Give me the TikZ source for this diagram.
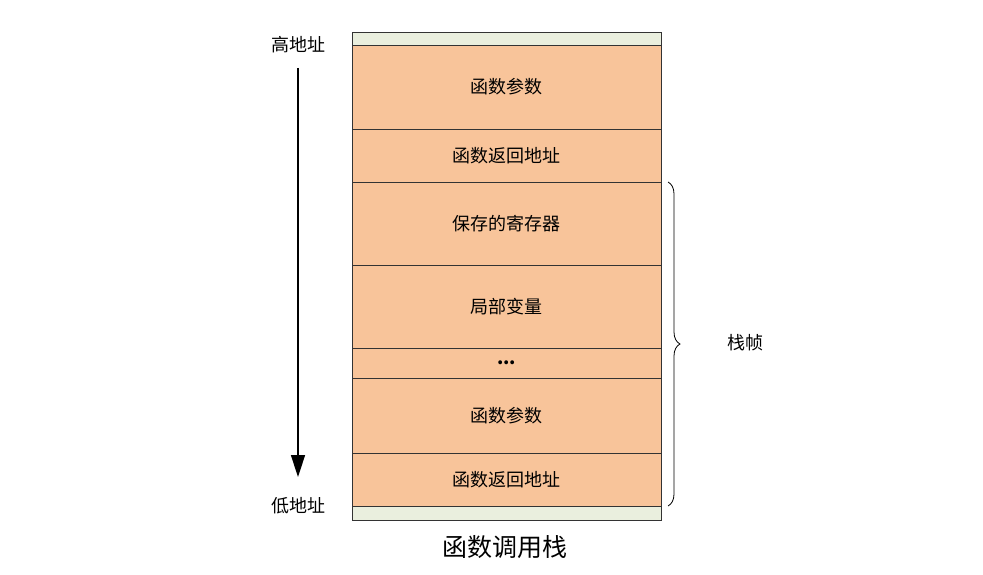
\documentclass[tikz,border=0pt]{standalone}
\usepackage{fontspec}
\setmainfont{Noto Sans CJK SC}
\usetikzlibrary{decorations.pathreplacing,arrows.meta}
\definecolor{cell}{HTML}{F8C49A}
\definecolor{band}{HTML}{EAEFDE}
\begin{document}
\begin{tikzpicture}[x=1pt,y=-1pt,
  cellbox/.style={draw=black!80,line width=0.8pt,fill=cell},
  bandbox/.style={draw=black!80,line width=0.8pt,fill=band},
  lbl/.style={font=\fontsize{18}{20}\selectfont,inner sep=0pt}]
\useasboundingbox (0,0) rectangle (983,575);
\path[bandbox] (352,32) rectangle (661,45);
\path[bandbox] (352,506) rectangle (661,520);
\foreach \a/\b/\t [count=\i] in {45/129/函数参数,129/182/函数返回地址,182/265/保存的寄存器,265/348/局部变量,348/378/\textbf{...},378/453/函数参数,453/506/函数返回地址}{
  \path[cellbox] (352,\a) rectangle (661,\b);
  \node[lbl] (c\i) at (506.5,{(\a+\b)/2}) {\t};
}
\coordinate (bt) at (668,182);
\coordinate (bb) at (668,506);
\draw[line width=0.8pt,decorate,decoration={brace,amplitude=12pt}] (bt) -- (bb);
\node[lbl] (frame) at (745,343) {栈帧};
\node[lbl] (hi) at (298,45) {高地址};
\node[lbl] (lo) at (298,506) {低地址};
\coordinate (as) at (298,68);
\coordinate (ae) at (298,477);
\draw[line width=1.5pt,-{Triangle[length=22pt,width=14pt]}] (as) -- (ae);
\node[font=\fontsize{25}{28}\selectfont,inner sep=0pt] (cap) at (505,547) {函数调用栈};
\end{tikzpicture}
\end{document}
